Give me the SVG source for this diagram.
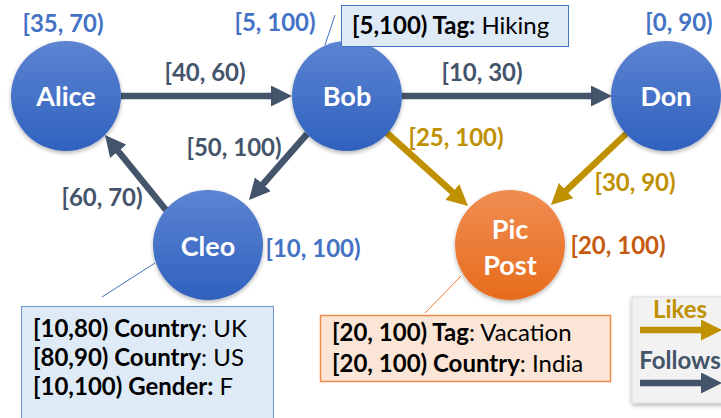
<svg xmlns="http://www.w3.org/2000/svg" width="721" height="418" viewBox="0 0 721 418">
<style>
text{font-family:Lato,"Open Sans","Liberation Sans",sans-serif;}
.node{font-size:27px;font-weight:bold;fill:#fff;text-anchor:middle;}
.lbl{font-size:24px;font-weight:bold;text-anchor:middle;}
.blue{fill:#4472C4;}
.dark{fill:#44546A;}
.gold{fill:#BF9000;}
.org{fill:#C55A11;}
.call{font-size:24px;fill:#000;}
.b{font-weight:bold;}
.e{fill:none;stroke-width:6.5;}
.ef{stroke:#44546A;}
.el{stroke:#BF9000;}
</style>
<defs>
<linearGradient id="gb" x1="0" y1="0" x2="0" y2="1"><stop offset="0" stop-color="#5C84D2"/><stop offset="1" stop-color="#2F61BE"/></linearGradient>
<linearGradient id="go" x1="0" y1="0" x2="0" y2="1"><stop offset="0" stop-color="#F08D52"/><stop offset="1" stop-color="#E76C1C"/></linearGradient>
<filter id="sh" x="-20%" y="-20%" width="140%" height="150%"><feDropShadow dx="0" dy="2" stdDeviation="2" flood-color="#000" flood-opacity="0.3"/></filter>
<marker id="af" markerUnits="userSpaceOnUse" viewBox="0 0 21 21" refX="11" refY="10.5" markerWidth="21" markerHeight="21" orient="auto"><path d="M0,0 L21,10.5 L0,21 z" fill="#44546A"/></marker>
<marker id="al" markerUnits="userSpaceOnUse" viewBox="0 0 21 21" refX="11" refY="10.5" markerWidth="21" markerHeight="21" orient="auto"><path d="M0,0 L21,10.5 L0,21 z" fill="#BF9000"/></marker>
</defs>
<g id="connectors">
<line class="e ef" x1="121" y1="96" x2="282" y2="96" marker-end="url(#af)"/>
<line class="e ef" x1="402" y1="96" x2="602" y2="96" marker-end="url(#af)"/>
<line class="e ef" x1="307" y1="134" x2="255.6" y2="192.5" marker-end="url(#af)"/>
<line class="e ef" x1="166" y1="210" x2="111.3" y2="142.8" marker-end="url(#af)"/>
<line class="e el" x1="387" y1="133" x2="460.6" y2="199.3" marker-end="url(#al)"/>
<line class="e el" x1="627" y1="133" x2="558.2" y2="198.1" marker-end="url(#al)"/>
<line x1="325" y1="45" x2="335" y2="15" stroke="#4472C4" stroke-width="1"/>
<line x1="155" y1="263" x2="102" y2="297" stroke="#4472C4" stroke-width="1"/>
<line x1="461" y1="276" x2="425" y2="313" stroke="#ED7D31" stroke-width="1"/>
</g>
<g id="edge-labels">
<text class="lbl dark" x="205" y="81">[40, 60)</text>
<text class="lbl dark" x="482" y="81">[10, 30)</text>
<text class="lbl dark" x="234" y="156">[50, 100)</text>
<text class="lbl dark" x="102" y="206">[60, 70)</text>
<text class="lbl gold" x="456" y="146">[25, 100)</text>
<text class="lbl gold" x="635" y="191">[30, 90)</text>
</g>
<g id="alice">
<circle cx="66" cy="96" r="55" fill="url(#gb)" filter="url(#sh)"/>
<text class="node" x="66" y="106">Alice</text>
<text class="lbl blue" x="63" y="32">[35, 70)</text>
</g>
<g id="bob">
<circle cx="347" cy="96" r="55" fill="url(#gb)" filter="url(#sh)"/>
<text class="node" x="347" y="106">Bob</text>
<text class="lbl blue" x="275" y="31">[5, 100)</text>
</g>
<g id="don">
<circle cx="666" cy="96" r="55" fill="url(#gb)" filter="url(#sh)"/>
<text class="node" x="666" y="106">Don</text>
<text class="lbl blue" x="679" y="31">[0, 90)</text>
</g>
<g id="cleo">
<circle cx="208" cy="245" r="55" fill="url(#gb)" filter="url(#sh)"/>
<text class="node" x="208" y="256">Cleo</text>
<text class="lbl blue" x="313" y="257">[10, 100)</text>
</g>
<g id="picpost">
<circle cx="510" cy="245" r="55" fill="url(#go)" filter="url(#sh)"/>
<text class="node" x="510" y="239">Pic</text>
<text class="node" x="510" y="275">Post</text>
<text class="lbl org" x="618" y="254">[20, 100)</text>
</g>
<g id="bob-callout">
<rect x="341.5" y="5.5" width="227" height="41" fill="#DEEBF7" stroke="#4472C4" stroke-width="1"/>
<text class="call" x="352" y="34"><tspan class="b">[5,100) Tag:</tspan> Hiking</text>
</g>
<g id="cleo-callout">
<rect x="21.5" y="306.5" width="252" height="120" fill="#DEEBF7" stroke="#6F94D6" stroke-width="1"/>
<text class="call" x="33" y="337"><tspan class="b">[10,80) Country</tspan>: UK</text>
<text class="call" x="33" y="366"><tspan class="b">[80,90) Country</tspan>: US</text>
<text class="call" x="33" y="395"><tspan class="b">[10,100) Gender:</tspan> F</text>
</g>
<g id="pic-callout">
<rect x="320.5" y="315.5" width="290" height="66" fill="#FBE5D6" stroke="#F08C4E" stroke-width="1.5"/>
<text class="call" x="332" y="341"><tspan class="b">[20, 100) Tag</tspan>: Vacation</text>
<text class="call" x="332" y="372"><tspan class="b">[20, 100) Country</tspan>: India</text>
</g>
<g id="legend">
<rect x="632" y="297" width="95" height="106" fill="#F2F2F2" stroke="#D9D9D9" stroke-width="1" filter="url(#sh)"/>
<text class="lbl gold" x="680" y="318">Likes</text>
<line class="e el" x1="640" y1="330" x2="712" y2="330" marker-end="url(#al)"/>
<text class="lbl dark" x="680" y="369">Follows</text>
<line class="e ef" x1="640" y1="383" x2="712" y2="383" marker-end="url(#af)"/>
</g>
</svg>
